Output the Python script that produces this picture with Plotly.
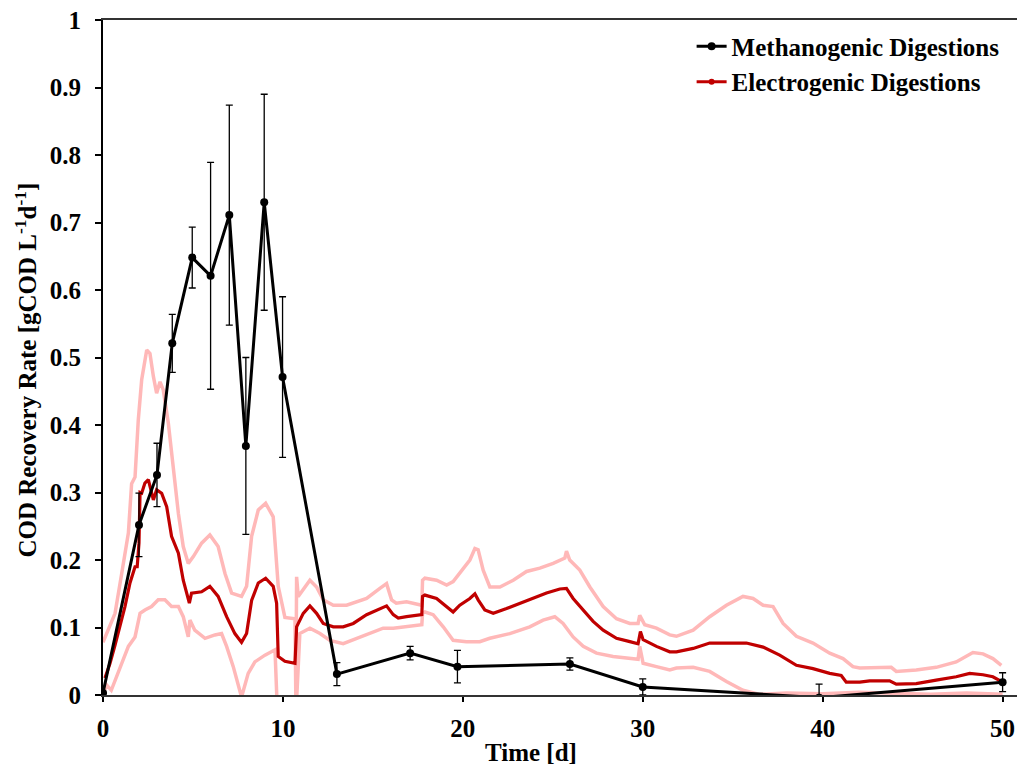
import plotly.graph_objects as go

# Methanogenic digestions: sampled rates with standard deviation
M_day = [0, 2, 3, 3.85, 4.96, 5.98, 7.02, 7.94, 8.96, 9.98, 13, 17.07, 19.7, 25.95, 30, 39.8, 50]
M_rate = [0.003, 0.252, 0.326, 0.521, 0.648, 0.621, 0.711, 0.369, 0.730, 0.471,
          0.031, 0.062, 0.042, 0.046, 0.012, -0.004, 0.019]
M_err = [0.0, 0.047, 0.047, 0.043, 0.045, 0.168, 0.163, 0.131, 0.160, 0.119,
         0.017, 0.010, 0.024, 0.009, 0.012, 0.020, 0.014]

# Electrogenic digestions: mean current-derived rate
E_day = [0.11, 0.39, 0.67, 0.94, 1.22, 1.5, 1.78, 1.9, 2.0, 2.06, 2.15, 2.33, 2.52, 2.8, 2.98,
         3.26, 3.54, 3.81, 4.19, 4.46, 4.74, 4.8, 4.92, 5.48, 5.94, 6.4, 6.87, 7.33, 7.7,
         7.98, 8.26, 8.63, 9.04, 9.46, 9.65, 9.74, 10.11, 10.67, 10.76, 11.13, 11.5, 11.87,
         12.24, 12.8, 13.35, 13.91, 14.65, 15.39, 15.76, 16.13, 16.41, 16.87, 17.61, 17.72,
         17.76, 17.89, 18.54, 19.1, 19.46, 19.83, 20.39, 20.67, 20.85, 21.22, 21.69, 22.43,
         23.17, 23.91, 24.65, 25.39, 25.76, 26.13, 26.69, 27.24, 27.8, 28.54, 29.28, 29.74,
         29.87, 30.02, 30.76, 31.5, 31.87, 32.8, 33.72, 34.65, 35.76, 36.69, 37.61, 38.54,
         39.46, 40.39, 41.03, 41.31, 42.06, 42.61, 43.72, 44.09, 45.2, 46.31, 47.42, 48.17,
         48.91, 49.46, 49.83, 50.0]
E_mean = [0.025, 0.047, 0.074, 0.101, 0.131, 0.166, 0.190, 0.190, 0.225, 0.300, 0.299,
          0.314, 0.319, 0.289, 0.304, 0.299, 0.279, 0.235, 0.210, 0.170, 0.141, 0.136,
          0.151, 0.153, 0.161, 0.146, 0.116, 0.091, 0.078, 0.091, 0.140, 0.166, 0.173,
          0.161, 0.136, 0.057, 0.050, 0.047, 0.101, 0.121, 0.132, 0.121, 0.106, 0.101,
          0.101, 0.106, 0.119, 0.128, 0.132, 0.119, 0.114, 0.116, 0.119, 0.119, 0.146,
          0.148, 0.143, 0.131, 0.123, 0.133, 0.143, 0.150, 0.141, 0.126, 0.121, 0.128,
          0.136, 0.143, 0.151, 0.157, 0.158, 0.143, 0.126, 0.109, 0.096, 0.084, 0.079,
          0.076, 0.094, 0.082, 0.072, 0.064, 0.064, 0.069, 0.077, 0.077, 0.077, 0.071,
          0.059, 0.044, 0.039, 0.032, 0.029, 0.019, 0.019, 0.021, 0.021, 0.016, 0.017,
          0.022, 0.027, 0.032, 0.030, 0.027, 0.021, 0.019]

# Upper bound of the electrogenic band
U_day = [0.0, 0.3, 0.67, 1.04, 1.41, 1.59, 1.78, 1.96, 2.15, 2.43, 2.61, 2.8, 2.98, 3.17,
         3.35, 3.63, 3.91, 4.19, 4.46, 4.74, 5.02, 5.48, 5.94, 6.4, 6.78, 7.15, 7.7, 7.98,
         8.26, 8.63, 9.04, 9.46, 9.74, 10.11, 10.67, 10.72, 10.76, 10.85, 11.5, 11.87,
         12.24, 12.8, 13.54, 14.65, 15.39, 15.76, 16.04, 16.3, 16.87, 17.61, 17.72, 17.76,
         17.89, 18.54, 19.1, 19.46, 19.93, 20.39, 20.67, 20.85, 21.13, 21.5, 22.06, 22.8,
         23.54, 24.28, 25.02, 25.67, 25.76, 25.94, 26.5, 27.06, 27.8, 28.54, 29.28, 29.74,
         29.83, 30.11, 30.76, 31.5, 31.87, 32.8, 33.72, 34.65, 35.57, 36.13, 36.69, 37.24,
         37.8, 38.54, 39.46, 40.39, 41.13, 41.68, 42.06, 42.61, 43.81, 44.09, 45.2, 46.31,
         47.42, 48.35, 48.91, 49.46, 49.93]
U_rate = [0.078, 0.096, 0.121, 0.180, 0.240, 0.313, 0.323, 0.407, 0.467, 0.511, 0.506,
          0.472, 0.447, 0.464, 0.452, 0.403, 0.333, 0.269, 0.220, 0.195, 0.205, 0.225,
          0.237, 0.220, 0.180, 0.151, 0.146, 0.161, 0.235, 0.274, 0.284, 0.264, 0.161,
          0.115, 0.113, -0.01, 0.175, 0.146, 0.170, 0.160, 0.141, 0.133, 0.133, 0.143,
          0.158, 0.165, 0.141, 0.136, 0.138, 0.133, 0.133, 0.170, 0.173, 0.170, 0.163,
          0.168, 0.185, 0.200, 0.217, 0.215, 0.185, 0.160, 0.160, 0.170, 0.183, 0.188,
          0.195, 0.203, 0.213, 0.200, 0.185, 0.160, 0.131, 0.113, 0.106, 0.106, 0.118,
          0.104, 0.099, 0.089, 0.087, 0.096, 0.116, 0.133, 0.146, 0.143, 0.133, 0.131,
          0.106, 0.087, 0.077, 0.062, 0.054, 0.042, 0.040, 0.040, 0.041, 0.035, 0.037,
          0.041, 0.049, 0.063, 0.061, 0.054, 0.044]

# Lower bound of the electrogenic band
L_day = [0.0, 0.2, 0.46, 0.67, 1.04, 1.41, 1.78, 2.06, 2.33, 2.7, 3.07, 3.44, 3.81, 4.19,
         4.46, 4.74, 4.83, 5.1, 5.67, 6.22, 6.59, 6.87, 7.24, 7.7, 8.07, 8.44, 9.0, 9.56,
         9.7, 10.72, 10.94, 11.5, 12.06, 12.61, 13.35, 14.09, 14.83, 15.57, 16.13, 16.87,
         17.61, 17.72, 17.76, 17.89, 18.35, 18.91, 19.46, 20.2, 20.94, 21.5, 22.61, 23.72,
         24.46, 25.11, 25.57, 26.13, 26.69, 27.43, 28.35, 29.28, 29.74, 29.83, 30.02,
         30.76, 31.5, 31.87, 32.8, 33.72, 34.65, 35.57, 36.5, 38.0, 40.0, 42.0, 44.0,
         46.0, 48.0, 50.0]
L_rate = [0.0, 0.015, 0.007, 0.022, 0.047, 0.072, 0.086, 0.121, 0.126, 0.131, 0.141,
          0.141, 0.131, 0.131, 0.116, 0.086, 0.111, 0.096, 0.084, 0.089, 0.091, 0.072,
          0.042, -0.003, 0.032, 0.049, 0.059, 0.067, -0.03, -0.03, 0.091, 0.099, 0.091,
          0.081, 0.076, 0.084, 0.091, 0.099, 0.099, 0.101, 0.104, 0.104, 0.121, 0.123,
          0.119, 0.101, 0.081, 0.079, 0.079, 0.084, 0.091, 0.101, 0.111, 0.116, 0.106,
          0.086, 0.072, 0.062, 0.057, 0.054, 0.053, 0.072, 0.047, 0.042, 0.037, 0.040,
          0.041, 0.035, 0.020, 0.007, 0.001, 0.003, 0.002, 0.004, 0.002, 0.001, 0.003,
          0.001]

# Axis tick positions and labels
X_TICKS = [0, 10, 20, 30, 40, 50]
X_LABELS = ["0", "10", "20", "30", "40", "50"]
Y_TICKS = [0, 0.1, 0.2, 0.3, 0.4, 0.5, 0.6, 0.7, 0.8, 0.9, 1]
Y_LABELS = ["0", "0.1", "0.2", "0.3", "0.4", "0.5", "0.6", "0.7", "0.8", "0.9", "1"]

FONT = "Liberation Serif"
DARK_RED = "#C00000"
PINK = "#FFB8B8"


def bold(s):
    return "<b>" + s + "</b>"


fig = go.Figure()

for d, r in ((U_day, U_rate), (L_day, L_rate)):
    fig.add_trace(go.Scatter(x=d, y=r, mode="lines", line=dict(color=PINK, width=3.5),
                             showlegend=False, hoverinfo="skip"))

fig.add_trace(go.Scatter(x=E_day, y=E_mean, mode="lines",
                         line=dict(color=DARK_RED, width=3.2), showlegend=False))

fig.add_trace(go.Scatter(
    x=M_day, y=M_rate, mode="lines+markers", name=bold("Methanogenic Digestions"),
    line=dict(color="black", width=3), marker=dict(color="black", size=8),
    error_y=dict(type="data", array=M_err, visible=True, color="black",
                 thickness=1.3, width=3.5),
    legendgroup="m"))

# legend entry for the electrogenic series
fig.add_trace(go.Scatter(
    x=[None], y=[None], mode="lines+markers", name=bold("Electrogenic Digestions"),
    line=dict(color=DARK_RED, width=3), marker=dict(color=DARK_RED, size=6),
    legendgroup="e"))

title_font = dict(family=FONT, size=25, color="black")

fig.update_layout(
    width=1019, height=770,
    margin=dict(l=103, r=2, t=20, b=75),
    plot_bgcolor="white", paper_bgcolor="white",
    font=dict(family=FONT, color="black"),
    showlegend=True,
    legend=dict(x=0.644, y=0.995, xanchor="left", yanchor="top",
                bgcolor="rgba(0,0,0,0)", tracegroupgap=0,
                font=dict(family=FONT, size=25, color="black")),
    xaxis=dict(range=[0, 50.8], tickvals=X_TICKS, ticktext=[bold(t) for t in X_LABELS],
               ticks="outside", ticklen=5, tickwidth=1.5, tickcolor="black",
               ticklabelstandoff=5,
               showline=True, linecolor="#333333", linewidth=2, mirror=True,
               showgrid=False, zeroline=False,
               tickfont=dict(family=FONT, size=25, color="black")),
    yaxis=dict(range=[0, 1], tickvals=Y_TICKS, ticktext=[bold(t) for t in Y_LABELS],
               ticks="outside", ticklen=6, tickwidth=1.5, tickcolor="black",
               ticklabelstandoff=9,
               showline=True, linecolor="black", linewidth=2,
               showgrid=False, zeroline=False,
               tickfont=dict(family=FONT, size=25, color="black")),
    annotations=[
        dict(text=bold("Time [d]"), xref="paper", yref="paper", x=0.468, y=-0.085,
             xanchor="center", yanchor="middle", showarrow=False, font=title_font),
        dict(text=bold("COD Recovery Rate [gCOD L<sup>-1</sup>d<sup>-1</sup>]"),
             xref="paper", yref="paper", x=-0.084, y=0.481, textangle=-90,
             xanchor="center", yanchor="middle", showarrow=False, font=title_font),
    ],
)

fig.write_html("out.html")
